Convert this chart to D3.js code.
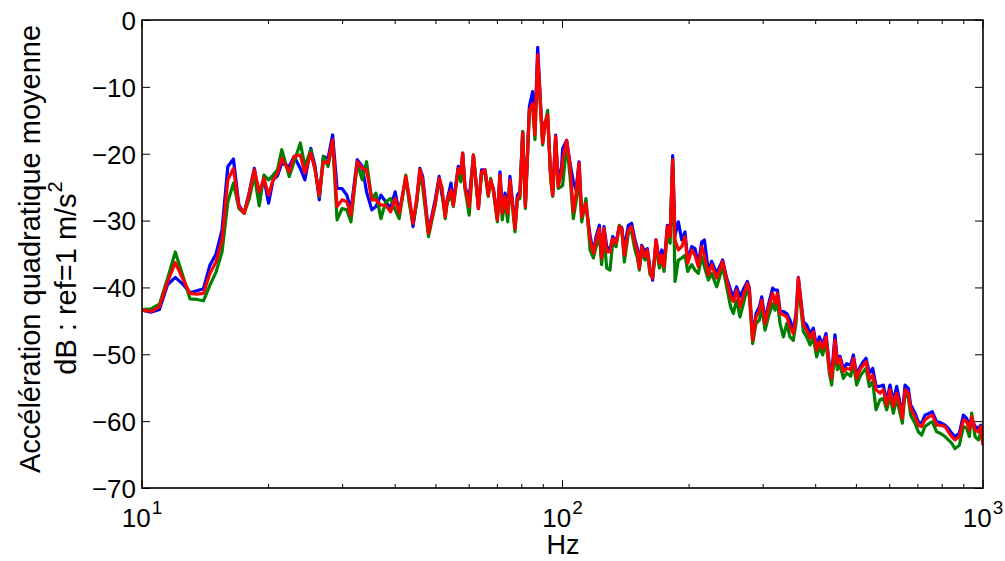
<!DOCTYPE html>
<html><head><meta charset="utf-8">
<script src="https://cdn.jsdelivr.net/npm/d3@7"></script>
<style>
html,body{margin:0;padding:0;background:#fff;}
text{font-family:"Liberation Sans",Arial,Helvetica,sans-serif;fill:#000;}
</style></head>
<body><svg id="chart" width="1005" height="561"></svg>
<script>
// Frequencies (Hz)
const freq = [10,10.5,11,11.5,12,12.5,13,13.5,14,14.5,15,15.5,16,16.5,17,17.5,18,18.5,19,19.5,20,20.5,21,21.5,
22.4,23.0,23.8,24.4,25.2,25.8,26.4,27.0,27.7,28.4,29.1,29.9,30.7,31.4,32.5,33.4,34.2,35.2,36.0,37.0,38.0,39.0,40.0,40.9,42.4,43.2,44.1,45.0,45.8,
46.5,48.0,49.8,50.9,51.6,52.6,53.2,54.3,55.0,56.5,57.3,57.9,58.6,60.0,61.4,63.1,64.2,65.4,66.6,67.5,68.5,70.0,71.0,71.9,73.0,74.1,75.0,77.1,78.1,79.2,80.4,81.6,83.4,84.9,86.0,87.3,88.7,89.7,90.9,92.2,93.7,94.8,96.3,97.7,99.5,
100.1,102.3,104.2,106.1,107.7,109.5,111.1,113.7,116.3,118.4,120.2,122.4,123.9,125.5,127.4,129.7,131.6,134.1,136.5,138.3,140.3,143.4,146.0,148.7,150.7,152.3,154.3,157.1,159.1,161.5,163.8,166.9,170.0,172.2,174.4,177.6,180.3,182.8,185.2,188.6,192.1,195.6,198.5,202.9,206.6,210.4,214.3,217.5,222.3,
226.3,232.6,240.4,245.7,251.1,254.8,259.5,264.3,270.1,275.2,278.2,283.3,288.6,293.9,297.7,303.2,308.8,316.1,320.2,324.4,329.1,335.2,341.4,347.5,353.9,359.2,363.8,
373.9,380.8,387.8,394.9,402.2,408.1,415.6,423.3,431.1,436.6,444.6,450.4,457.0,465.5,474.1,484.6,491.7,500.7,510.0,519.3,527.0,536.7,546.6,556.7,569.0,579.4,590.1,600.9,612.1,623.4,634.8,643.0,652.5,664.5,673.0,689.2,701.9,714.8,728.0,745.5,757.8,775.9,790.3,812.2,827.2,842.4,857.9,878.5,898.2,914.7,928.1,940.1,957.4,975.0,987.4,1000];

// Series (dB re 1 m/s^2)
const blueSeries = [-43.4,-43.7,-43.3,-39.6,-38.5,-39.5,-40.8,-40.5,-40.2,-36.7,-35.0,-31.4,-21.9,-20.8,-27.7,-28.9,-25.7,-22.2,-26.4,-23.7,-27.4,-23.9,-23.3,-21.4,
-21.9,-20.4,-22.2,-23.9,-19.2,-21.9,-26.9,-20.4,-20.7,-17.2,-25.2,-25.2,-26.2,-28.4,-20.9,-21.9,-25.7,-28.4,-27.9,-26.2,-27.2,-28.2,-25.7,-28.9,-23.7,-26.7,-30.9,-27.2,-22.2,
-23.4,-31.7,-26.9,-23.4,-25.9,-28.9,-26.9,-24.4,-27.4,-21.9,-22.7,-19.9,-24.9,-26.7,-20.2,-28.2,-22.4,-22.4,-25.7,-24.2,-25.2,-29.7,-22.7,-28.4,-25.9,-28.4,-23.4,-30.9,-26.2,-25.7,-16.7,-27.7,-13.0,-10.7,-15.9,-4.1,-12.7,-18.2,-15.2,-14.7,-22.9,-25.9,-17.2,-24.4,-21.9,
-19.2,-18.0,-21.4,-24.2,-25.4,-21.2,-29.0,-27.7,-32.2,-34.9,-32.4,-30.7,-35.4,-30.9,-33.9,-34.4,-32.4,-33.2,-30.9,-31.0,-34.2,-30.7,-30.4,-32.9,-34.2,-36.9,-33.7,-34.7,-34.2,-37.1,-38.9,-32.9,-36.2,-34.4,-36.6,-30.7,-32.2,-20.3,-32.2,-30.2,-32.9,-31.7,-35.9,-33.9,-34.2,-36.6,-33.2,-32.9,-37.6,
-36.1,-37.9,-35.9,-38.6,-40.4,-41.4,-39.9,-41.4,-40.1,-39.1,-40.1,-47.4,-43.9,-42.9,-41.4,-44.9,-42.6,-40.1,-40.4,-40.4,-43.4,-43.6,-43.9,-44.9,-46.4,-43.9,-38.5,
-45.1,-45.6,-46.9,-46.1,-48.9,-47.4,-48.6,-46.9,-51.6,-53.1,-47.1,-50.9,-50.3,-52.1,-51.4,-51.6,-50.1,-53.1,-51.9,-51.1,-50.6,-52.8,-52.1,-54.8,-54.8,-54.6,-57.1,-54.6,-57.1,-54.8,-57.3,-59.1,-54.6,-55.1,-57.6,-58.8,-60.1,-60.3,-59.1,-58.8,-58.6,-60.1,-60.2,-60.6,-61.1,-61.8,-62.3,-61.8,-59.1,-59.6,-60.8,-59.6,-60.8,-61.1,-60.6,-62.8];

const greenSeries = [-43.3,-43.2,-42.5,-38.7,-34.7,-38.2,-41.7,-41.8,-42.0,-39.7,-37.7,-34.7,-27.2,-24.4,-28.2,-28.9,-26.7,-23.2,-27.8,-23.2,-23.9,-23.2,-22.4,-19.4,
-23.4,-21.2,-18.4,-21.9,-19.4,-22.4,-26.4,-20.4,-21.9,-18.2,-29.9,-28.2,-28.4,-30.2,-21.4,-23.9,-21.2,-26.9,-25.9,-29.7,-27.2,-26.7,-28.4,-29.7,-23.2,-27.4,-30.4,-27.4,-23.2,
-24.9,-32.4,-27.7,-23.9,-24.9,-29.7,-27.4,-26.2,-27.9,-22.4,-24.2,-20.2,-25.2,-29.2,-20.2,-27.9,-22.9,-22.9,-26.4,-23.7,-25.7,-30.2,-23.4,-29.9,-26.9,-30.2,-24.4,-31.7,-26.9,-26.7,-16.7,-28.2,-13.7,-13.0,-17.9,-6.0,-13.5,-18.7,-15.5,-13.5,-23.9,-26.4,-17.9,-25.2,-24.9,
-24.7,-18.4,-23.4,-29.7,-27.2,-23.4,-30.2,-26.7,-34.4,-35.6,-33.9,-32.4,-36.6,-32.4,-37.1,-37.4,-33.4,-33.9,-30.7,-31.2,-36.2,-31.9,-31.7,-34.4,-35.6,-37.4,-34.7,-35.9,-34.9,-38.1,-38.4,-33.9,-37.1,-35.6,-37.6,-31.9,-33.4,-20.9,-39.1,-35.9,-35.6,-35.2,-37.6,-36.6,-37.4,-37.9,-35.4,-36.9,-38.9,
-37.9,-39.9,-36.9,-39.9,-42.9,-43.9,-41.9,-44.4,-42.1,-39.9,-41.4,-48.4,-45.4,-44.9,-42.9,-46.4,-44.4,-42.4,-43.4,-42.1,-45.4,-47.4,-45.4,-47.4,-47.9,-45.4,-39.4,
-46.6,-47.4,-48.6,-47.6,-50.4,-48.9,-50.1,-48.1,-52.8,-54.6,-49.4,-52.3,-51.6,-53.6,-52.8,-53.3,-51.4,-54.6,-53.3,-52.6,-52.1,-54.8,-54.1,-58.3,-56.8,-56.6,-58.3,-56.3,-58.8,-56.6,-58.8,-60.3,-55.8,-56.6,-59.1,-60.3,-61.6,-62.1,-60.8,-60.3,-60.1,-61.6,-61.8,-62.3,-62.8,-63.3,-64.1,-63.6,-60.8,-61.1,-62.3,-58.8,-62.3,-62.8,-61.8,-63.3];

const redSeries = [-43.4,-43.6,-42.9,-39.2,-36.3,-38.7,-40.9,-41.0,-40.9,-37.9,-36.2,-32.9,-23.9,-22.2,-27.9,-28.9,-25.9,-22.4,-25.7,-23.7,-26.2,-23.9,-22.9,-20.7,
-22.7,-20.4,-20.2,-22.9,-19.9,-22.4,-26.2,-21.2,-21.4,-17.9,-27.9,-26.9,-27.2,-29.2,-21.2,-22.2,-22.4,-26.9,-26.9,-27.7,-27.7,-28.7,-26.7,-28.9,-23.4,-26.4,-30.4,-26.7,-22.4,
-23.9,-31.9,-27.4,-23.7,-24.9,-29.4,-26.9,-25.4,-27.7,-22.2,-22.9,-19.9,-24.9,-27.9,-20.2,-28.2,-22.7,-22.4,-26.2,-23.9,-25.4,-29.9,-23.2,-28.9,-26.4,-28.9,-23.9,-31.2,-26.7,-26.2,-16.9,-27.9,-13.5,-12.5,-17.2,-5.2,-13.0,-18.4,-15.5,-14.2,-23.4,-26.2,-17.4,-24.9,-22.9,
-20.9,-18.0,-21.7,-28.7,-25.9,-21.4,-29.4,-27.4,-32.9,-34.9,-32.9,-31.2,-35.6,-31.2,-34.7,-34.7,-32.7,-33.4,-30.9,-31.2,-35.2,-31.4,-30.9,-33.4,-34.7,-37.1,-33.9,-35.4,-34.4,-37.6,-38.6,-32.9,-36.4,-35.2,-36.9,-30.9,-32.4,-20.9,-32.9,-34.4,-33.9,-32.4,-36.4,-34.4,-35.2,-36.9,-33.9,-35.2,-38.1,
-36.6,-38.6,-36.1,-38.9,-41.4,-42.1,-40.4,-42.9,-40.9,-39.4,-40.4,-47.9,-44.4,-43.4,-41.9,-45.4,-43.1,-40.9,-42.4,-40.9,-43.9,-44.1,-44.4,-45.9,-46.9,-44.4,-38.6,
-45.6,-46.4,-47.6,-46.6,-49.4,-48.1,-49.1,-47.4,-52.1,-53.6,-47.9,-51.4,-50.6,-52.6,-52.1,-52.3,-50.6,-53.6,-52.3,-51.6,-51.1,-53.8,-53.1,-55.3,-55.8,-55.3,-57.6,-55.3,-57.8,-55.8,-57.8,-59.6,-55.3,-55.8,-58.1,-59.3,-60.6,-60.8,-59.8,-59.3,-59.1,-60.6,-60.6,-60.8,-61.6,-62.3,-62.8,-62.3,-59.8,-60.1,-61.3,-59.3,-61.3,-61.6,-60.8,-63.6];

const yTicks = [0,-10,-20,-30,-40,-50,-60,-70];
const xMajorTicks = [10,100,1000];
const xMajorExp = ["1","2","3"];
const xMinorTicks = [20,30,40,50,60,70,80,90,200,300,400,500,600,700,800,900];
const yLabelLine1 = "Accélération quadratique moyenne";
const yLabelLine2a = "dB : ref=1 m/s";
const yLabelLine2sup = "2";
const xLabelText = "Hz";

const svg = d3.select("#chart");
const L = 142, T = 20, R = 983, B = 488;
const x = d3.scaleLog().domain([10,1000]).range([L,R]);
const y = d3.scaleLinear().domain([-70,0]).range([B,T]);
const FS = 26, LFS = 29;

// lines
const seriesList = [
  {vals: blueSeries, color: "#0000ff"},
  {vals: greenSeries, color: "#008000"},
  {vals: redSeries, color: "#ff0000"}
];
svg.append("defs").append("clipPath").attr("id","clip")
  .append("rect").attr("x",L).attr("y",T).attr("width",R-L).attr("height",B-T);
const gLines = svg.append("g").attr("clip-path","url(#clip)");
seriesList.forEach(s => {
  const pts = freq.map((f,i)=>[f,s.vals[i]]).filter(d=>d[1]!==undefined);
  gLines.append("path").datum(pts)
    .attr("fill","none").attr("stroke",s.color).attr("stroke-width",3.2)
    .attr("stroke-linejoin","round")
    .attr("d", d3.line().x(d=>x(d[0])).y(d=>y(d[1])));
});

// axes box
svg.append("rect").attr("x",L).attr("y",T).attr("width",R-L).attr("height",B-T)
  .attr("fill","none").attr("stroke","#000").attr("stroke-width",1.6);

// y axis left & right (ticks inside)
const yAxisL = svg.append("g").attr("transform",`translate(${L},0)`)
  .call(d3.axisLeft(y).tickValues(yTicks).tickSize(-8).tickPadding(6)
    .tickFormat(d => d===0 ? "0" : "\u2212" + Math.abs(d)));
yAxisL.select(".domain").remove();
yAxisL.selectAll("text").attr("font-size",FS).attr("font-family","Liberation Sans, Arial, sans-serif").attr("dy","0.36em");
yAxisL.selectAll("line").attr("stroke","#000").attr("stroke-width",1);
const yAxisR = svg.append("g").attr("transform",`translate(${R},0)`)
  .call(d3.axisRight(y).tickValues(yTicks).tickSize(-8).tickFormat(""));
yAxisR.select(".domain").remove();
yAxisR.selectAll("line").attr("stroke","#000").attr("stroke-width",1);

// x axis bottom & top
function xTicks(g, dir){
  g.append("g").selectAll("line").data(xMajorTicks).join("line")
    .attr("x1",d=>x(d)).attr("x2",d=>x(d))
    .attr("y1",dir>0?B:T).attr("y2",dir>0?B-8:T+8).attr("stroke","#000");
  g.append("g").selectAll("line").data(xMinorTicks).join("line")
    .attr("x1",d=>x(d)).attr("x2",d=>x(d))
    .attr("y1",dir>0?B:T).attr("y2",dir>0?B-4:T+4).attr("stroke","#000");
}
xTicks(svg.append("g"),1);
xTicks(svg.append("g"),-1);

const xl = svg.append("g").selectAll("text").data(xMajorTicks).join("text")
  .attr("x",d=>x(d)).attr("y",527).attr("text-anchor","middle").attr("font-size",FS);
xl.append("tspan").text("10");
xl.append("tspan").text((d,i)=>xMajorExp[i]).attr("font-size",19).attr("dy",-13).attr("dx",1);

// labels
svg.append("text").attr("x",563).attr("y",554).attr("text-anchor","middle").attr("font-size",27).text(xLabelText);
svg.append("text").attr("transform","translate(40,249) rotate(-90)").attr("text-anchor","middle")
  .attr("font-size",LFS).text(yLabelLine1);
const l2 = svg.append("text").attr("transform","translate(76,278) rotate(-90)").attr("text-anchor","middle")
  .attr("font-size",LFS);
l2.append("tspan").text(yLabelLine2a);
l2.append("tspan").text(yLabelLine2sup).attr("font-size",20).attr("dy",-14).attr("dx",1);
</script></body></html>
